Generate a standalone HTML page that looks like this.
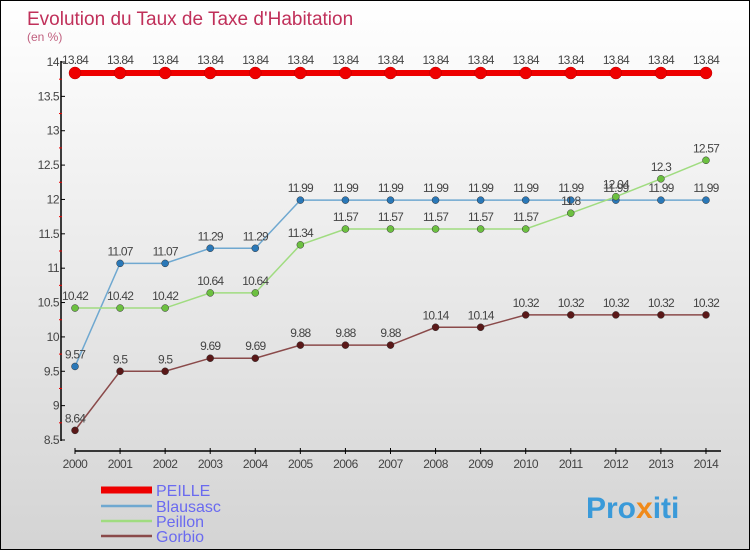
<!DOCTYPE html>
<html><head><meta charset="utf-8"><style>
body{margin:0}
#c{width:748px;height:548px;border:1px solid #000;background:linear-gradient(#fff,#d4d4d4);position:relative;font-family:"Liberation Sans",sans-serif}
svg text{font-family:"Liberation Sans",sans-serif}
</style></head><body>
<div id="c">
<svg id="s" width="748" height="548">
<text x="26" y="24" font-size="19" fill="#c0305a">Evolution du Taux de Taxe d'Habitation</text>
<text x="26" y="40" font-size="12" fill="#c0607f">(en %)</text>
<text x="585" y="517" font-size="30" font-weight="bold" fill="#3a9ad9">Pro<tspan fill="#f08a1a">x</tspan>iti</text>
</svg></div>
<script>
const years=[2000,2001,2002,2003,2004,2005,2006,2007,2008,2009,2010,2011,2012,2013,2014];
const yTicks=[8.5,9,9.5,10,10.5,11,11.5,12,12.5,13,13.5,14];
const peille=[13.84,13.84,13.84,13.84,13.84,13.84,13.84,13.84,13.84,13.84,13.84,13.84,13.84,13.84,13.84];
const blausasc=[9.57,11.07,11.07,11.29,11.29,11.99,11.99,11.99,11.99,11.99,11.99,11.99,11.99,11.99,11.99];
const peillon=[10.42,10.42,10.42,10.64,10.64,11.34,11.57,11.57,11.57,11.57,11.57,11.8,12.04,12.3,12.57];
const gorbio=[8.64,9.5,9.5,9.69,9.69,9.88,9.88,9.88,10.14,10.14,10.32,10.32,10.32,10.32,10.32];
const names=["PEILLE","Blausasc","Peillon","Gorbio"];
const s=document.getElementById('s'),NS='http://www.w3.org/2000/svg';
const X=i=>74+i*45.07, Y=v=>439-(v-8.5)*(378/5.5);
function el(t,a,p){const e=document.createElementNS(NS,t);for(const k in a)e.setAttribute(k,a[k]);(p||s).appendChild(e);return e;}
let ax=el('line',{x1:60,y1:60,x2:60,y2:440,stroke:'#000','stroke-width':1.5});


let bx=el('line',{x1:74,y1:450,x2:720,y2:450,stroke:'#000','stroke-width':1.5});


yTicks.forEach(v=>{
 el('line',{x1:60,x2:64,y1:Y(v),y2:Y(v),stroke:'#000'});
 if(v<14) el('line',{x1:58,x2:61,y1:Y(v+0.25),y2:Y(v+0.25),stroke:'#e00'});
 const t=el('text',{x:58,y:Y(v)+4,'font-size':12,'text-anchor':'end',fill:'#444','letter-spacing':'-0.5'});
 t.textContent=String(v);
 
 
});
years.forEach((y,i)=>{
 el('line',{x1:X(i),x2:X(i),y1:447,y2:453,stroke:'#000'});
 const t=el('text',{x:X(i),y:467,'font-size':12,'text-anchor':'middle',fill:'#444','letter-spacing':'-0.5'});
 t.textContent=y;
 
 
});
const series=[[peille,'#e00',6,6,'#c00'],[blausasc,'#6fa8d0',1.5,3.5,'#2a78b8'],[peillon,'#a0dc80',1.5,3.5,'#6cc040'],[gorbio,'#8a4a4a',1.5,3.5,'#5a1818']];
series.forEach((sr,k)=>{
 const [d,c,w,r,mc]=sr;
 const g=el('g',{});
 
 
 el('polyline',{points:d.map((v,i)=>X(i)+','+Y(v)).join(' '),fill:'none',stroke:c,'stroke-width':w},g);
 d.forEach((v,i)=>{
  const m=el('circle',{cx:X(i),cy:Y(v),r:r,fill:k==0?'#e00':mc,stroke:k==0?'#b00':'#333','stroke-width':0.5},g);
  
  
  const t=el('text',{x:X(i),y:Y(v)-(k==0?9:8),'font-size':12,'text-anchor':'middle',fill:'#444','letter-spacing':'-0.8'},g);
  t.textContent=String(v);
  
  
 });
});
const ly=[492,508,523,538];
names.forEach((n,k)=>{
 const g=el('g',{});
 
 
 el('line',{x1:100,x2:151,y1:ly[k]-3,y2:ly[k]-3,stroke:series[k][1],'stroke-width':k==0?7:2.5},g);
 const t=el('text',{x:155,y:ly[k]+3,'font-size':16,fill:'#6a6af0'},g);
 t.textContent=n;
});
</script>
</body></html>
